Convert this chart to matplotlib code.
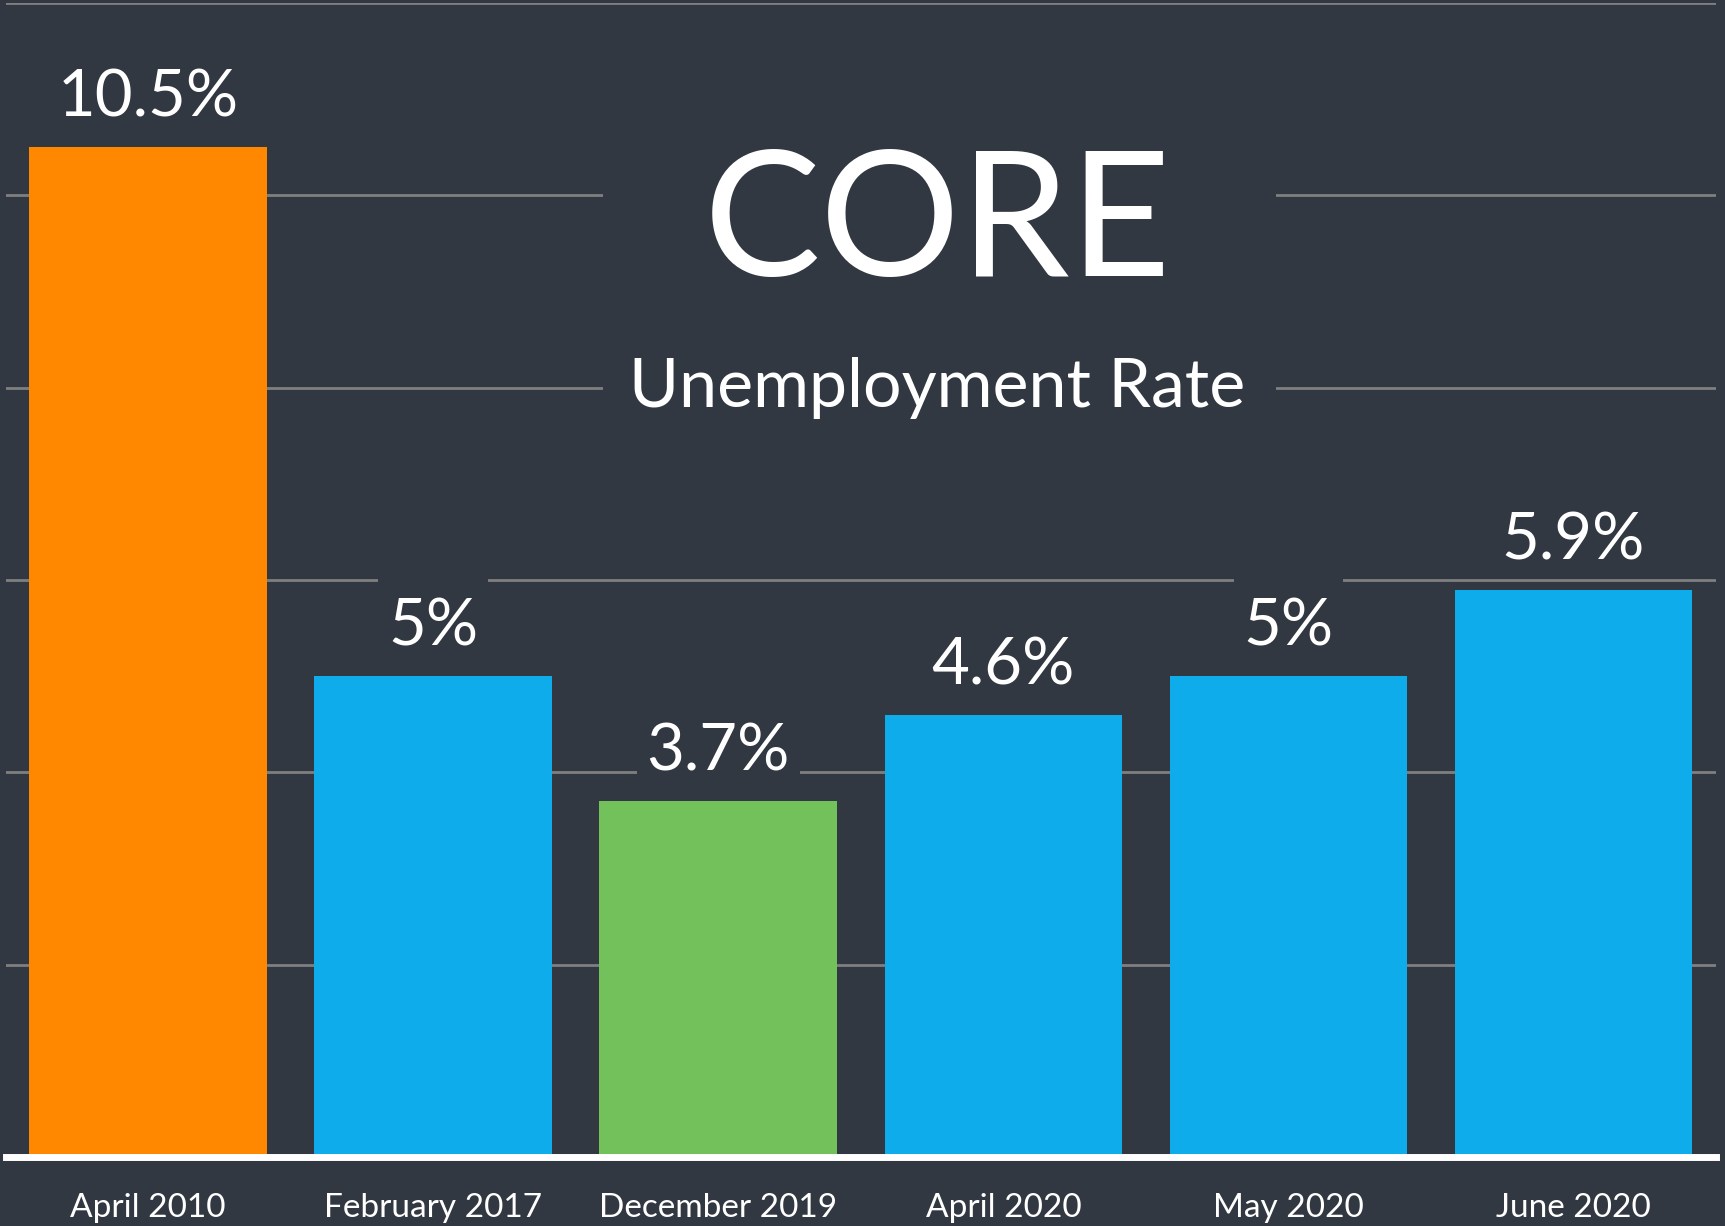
import matplotlib.pyplot as plt
from matplotlib.patches import Rectangle
from matplotlib.path import Path

# 数据
months = ['April 2010', 'February 2017', 'December 2019', 'April 2020', 'May 2020', 'June 2020']
rates = [10.5, 5.0, 3.7, 4.6, 5.0, 5.9]
labels = ['10.5%', '5%', '3.7%', '4.6%', '5%', '5.9%']
colors = ['#FF8800', '#0EACEA', '#72C15A', '#0EACEA', '#0EACEA', '#0EACEA']

bg = '#323841'
plt.rcParams['font.family'] = ['Lato', 'DejaVu Sans']


# 标签底框：左右窄，上方留得高一点
def label_box(x0, y0, width, height, mutation_size):
    px = 0.15 * mutation_size
    top = 0.45 * mutation_size
    bot = 0.1 * mutation_size
    x1, y1 = x0 - px, y0 - bot
    x2, y2 = x0 + width + px, y0 + height + top
    return Path([(x1, y1), (x2, y1), (x2, y2), (x1, y2), (x1, y1)], closed=True)


fig = plt.figure(figsize=(17.25, 12.26), dpi=100, facecolor=bg)
ax = fig.add_axes([0.0032, 0.0563, 0.9916, 0.9413])
ax.set_facecolor(bg)

x = range(len(months))
ax.bar(x, rates, width=0.833, color=colors, zorder=3)

ax.set_xlim(-0.5, 5.5)
ax.set_ylim(0, 12)
ax.set_yticks([0, 2, 4, 6, 8, 10, 12])
ax.yaxis.grid(True, color='#7F7F7F', linewidth=2, zorder=0)
ax.set_axisbelow(True)
ax.tick_params(axis='y', length=0, labelleft=False)
ax.tick_params(axis='x', length=0, pad=26, labelsize=24, labelcolor='white')
ax.set_xticks(list(x))
ax.set_xticklabels(months)
for s in ['top', 'right', 'left']:
    ax.spines[s].set_visible(False)
ax.spines['bottom'].set_color('white')
ax.spines['bottom'].set_linewidth(5)
ax.spines['bottom'].set_zorder(5)

# 数值标签
for i, (v, t) in enumerate(zip(rates, labels)):
    ax.annotate(t, (i, v), xytext=(0, 22), textcoords='offset points',
                ha='center', va='baseline', fontsize=47, color='white', zorder=4,
                bbox=dict(boxstyle=label_box, fc=bg, ec='none'))

# 标题区域
ax.add_patch(Rectangle((0.3494, 0.58), 0.3934, 0.36, transform=ax.transAxes,
                       facecolor=bg, edgecolor='none', zorder=2))
ax.text(0.5446, 9.68 / 12, 'CORE', transform=ax.transAxes, ha='center', va='center',
        fontsize=126, color='white', zorder=4)
ax.text(0.5446, 8.0 / 12, 'Unemployment Rate', transform=ax.transAxes, ha='center',
        va='center', fontsize=49, color='white', zorder=4)

fig.savefig('out.png', dpi=100, facecolor=bg)
